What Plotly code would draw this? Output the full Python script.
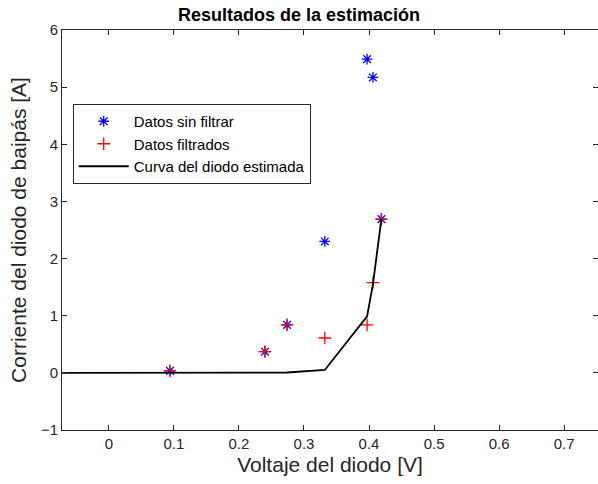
import plotly.graph_objects as go

# Data
v_raw = [0.094, 0.240, 0.274, 0.332, 0.397, 0.406, 0.419]
i_raw = [0.035, 0.37, 0.84, 2.30, 5.49, 5.17, 2.69]
v_filt = [0.094, 0.240, 0.274, 0.332, 0.397, 0.406, 0.419]
i_filt = [0.035, 0.37, 0.84, 0.61, 0.84, 1.58, 2.69]
v_curve = [-0.1, 0.094, 0.240, 0.274, 0.332, 0.397, 0.406, 0.419]
i_curve = [0.0, 0.0, 0.001, 0.006, 0.05, 0.99, 1.55, 2.69]

x_ticks = [0, 0.1, 0.2, 0.3, 0.4, 0.5, 0.6, 0.7]
y_ticks = [-1, 0, 1, 2, 3, 4, 5, 6]

axcol = "#262626"
font = "Liberation Sans, Arial, sans-serif"

fig = go.Figure()
fig.add_trace(go.Scatter(x=v_raw, y=i_raw, mode="markers", name="Datos sin filtrar",
                         marker=dict(symbol="asterisk-open", size=9, color="blue",
                                     line=dict(color="blue", width=1.3))))
fig.add_trace(go.Scatter(x=v_filt, y=i_filt, mode="markers", name="Datos filtrados",
                         marker=dict(symbol="cross-thin-open", size=9, color="red",
                                     line=dict(color="red", width=1.3))))
fig.add_trace(go.Scatter(x=v_curve, y=i_curve, mode="lines", name="Curva del diodo estimada",
                         line=dict(color="black", width=1.8)))

axis_common = dict(showgrid=False, zeroline=False, showline=True, linecolor=axcol,
                   linewidth=1, mirror="ticks", ticks="inside", ticklen=5,
                   tickcolor=axcol, tickfont=dict(family=font, size=15, color=axcol))

fig.update_layout(
    width=598, height=484,
    margin=dict(l=62, r=0, t=30, b=54),
    paper_bgcolor="white", plot_bgcolor="white",
    title=dict(text="<b>Resultados de la estimación</b>", x=0.5, xanchor="center",
               y=1 - 15 / 484, yanchor="middle",
               font=dict(family=font, size=18, color="black")),
    xaxis=dict(range=[-0.072, 0.752], tickvals=x_ticks,
               title=dict(text="Voltaje del diodo [V]", standoff=6,
                          font=dict(family=font, size=21, color=axcol)),
               **axis_common),
    yaxis=dict(range=[-1, 6], tickvals=y_ticks,
               title=dict(text="Corriente del diodo de baipás [A]", standoff=8,
                          font=dict(family=font, size=21, color=axcol)),
               **axis_common),
    legend=dict(x=0.02, y=0.815, xanchor="left", yanchor="top",
                bgcolor="white", bordercolor=axcol, borderwidth=1,
                font=dict(family=font, size=15, color="black"),
                itemwidth=50, tracegroupgap=0),
    showlegend=True,
)

fig.write_html("out.html")
